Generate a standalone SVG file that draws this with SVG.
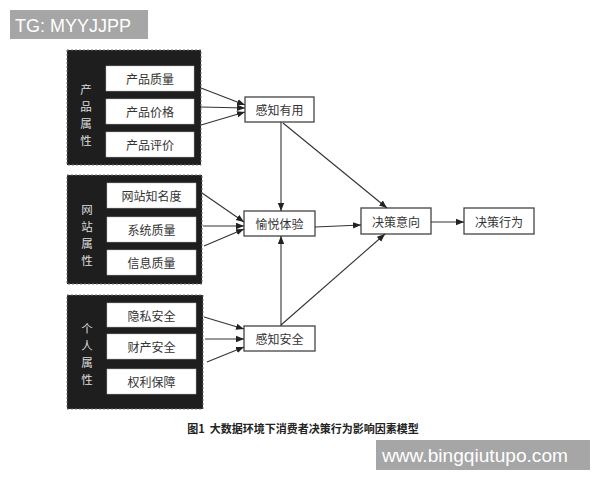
<svg xmlns="http://www.w3.org/2000/svg" width="600" height="480" viewBox="0 0 600 480">
<defs>
<marker id="ah" viewBox="0 0 10 10" refX="10" refY="5" markerWidth="8" markerHeight="8" markerUnits="userSpaceOnUse" orient="auto">
<path d="M0,1 L10,5 L0,9 Z" fill="#222"/>
</marker>
</defs>
<style>
.grp{fill:#1e1e1e;stroke:#777;stroke-width:1;stroke-dasharray:2,2}
.wb{fill:#fff;stroke:#bbb;stroke-width:0.5}
.nd{fill:#fff;stroke:#444;stroke-width:1.3}
.t{font-family:"Noto Sans CJK SC","Noto Sans",sans-serif;font-size:12px;fill:#333;text-anchor:middle;dominant-baseline:central}
.gl{font-family:"Noto Sans CJK SC","Noto Sans",sans-serif;font-size:11.5px;fill:#ddd;text-anchor:middle;dominant-baseline:central}
.c line{stroke:#333;stroke-width:1.1;marker-end:url(#ah)}
</style>
<rect width="600" height="480" fill="#fff"/>
<g id="watermark-top">
<rect x="10" y="10" width="138" height="29" fill="#a6a6a6"/>
<text x="15" y="32" font-family="Liberation Sans,Arial,sans-serif" font-size="18" fill="#fff">TG: MYYJJPP</text>
</g>
<g id="group-product">
<rect class="grp" x="67" y="50" width="134" height="115"/>
<text class="gl" x="86" y="89">产</text>
<text class="gl" x="86" y="106">品</text>
<text class="gl" x="86" y="123">属</text>
<text class="gl" x="86" y="140">性</text>
<g id="n-quality"><rect class="wb" x="106" y="66" width="88" height="25"/><text class="t" x="150" y="78.5">产品质量</text></g>
<g id="n-price"><rect class="wb" x="106" y="99" width="88" height="25"/><text class="t" x="150" y="111.5">产品价格</text></g>
<g id="n-review"><rect class="wb" x="106" y="132" width="88" height="25"/><text class="t" x="150" y="144.5">产品评价</text></g>
</g>
<g id="group-website">
<rect class="grp" x="67" y="175" width="135" height="109"/>
<text class="gl" x="87" y="209">网</text>
<text class="gl" x="87" y="226">站</text>
<text class="gl" x="87" y="243">属</text>
<text class="gl" x="87" y="260">性</text>
<g id="n-fame"><rect class="wb" x="107" y="183" width="89" height="25"/><text class="t" x="151.5" y="195.5">网站知名度</text></g>
<g id="n-system"><rect class="wb" x="107" y="217" width="89" height="25"/><text class="t" x="151.5" y="229.5">系统质量</text></g>
<g id="n-info"><rect class="wb" x="107" y="250" width="89" height="25"/><text class="t" x="151.5" y="262.5">信息质量</text></g>
</g>
<g id="group-personal">
<rect class="grp" x="67" y="295" width="136" height="114"/>
<text class="gl" x="87" y="328">个</text>
<text class="gl" x="87" y="345">人</text>
<text class="gl" x="87" y="362">属</text>
<text class="gl" x="87" y="379">性</text>
<g id="n-privacy"><rect class="wb" x="107" y="303" width="89" height="24"/><text class="t" x="151.5" y="315">隐私安全</text></g>
<g id="n-property"><rect class="wb" x="107" y="334" width="89" height="25"/><text class="t" x="151.5" y="346.5">财产安全</text></g>
<g id="n-rights"><rect class="wb" x="107" y="369" width="89" height="25"/><text class="t" x="151.5" y="381.5">权利保障</text></g>
</g>
<g id="n-useful"><rect class="nd" x="245" y="97" width="69" height="25"/><text class="t" x="279.5" y="109.5">感知有用</text></g>
<g id="n-pleasure"><rect class="nd" x="244" y="211" width="71" height="25"/><text class="t" x="279.5" y="223.5">愉悦体验</text></g>
<g id="n-safety"><rect class="nd" x="244" y="326" width="71" height="25"/><text class="t" x="279.5" y="338.5">感知安全</text></g>
<g id="n-intent"><rect class="nd" x="361" y="208" width="70" height="26"/><text class="t" x="396" y="221">决策意向</text></g>
<g id="n-behavior"><rect class="nd" x="464" y="208" width="70" height="26"/><text class="t" x="499" y="221">决策行为</text></g>
<g id="connectors" class="c">
<line x1="201" y1="88" x2="245" y2="105"/>
<line x1="201" y1="107" x2="245" y2="108"/>
<line x1="201" y1="125" x2="245" y2="112"/>
<line x1="202" y1="193" x2="244" y2="222"/>
<line x1="203" y1="226" x2="244" y2="226"/>
<line x1="204" y1="246" x2="244" y2="229"/>
<line x1="204" y1="317" x2="244" y2="329"/>
<line x1="205" y1="339" x2="244" y2="339"/>
<line x1="207" y1="362" x2="244" y2="347"/>
<line x1="281" y1="122" x2="281" y2="211"/>
<line x1="281" y1="326" x2="281" y2="236"/>
<line x1="283" y1="123" x2="387" y2="208"/>
<line x1="281" y1="325" x2="385" y2="234"/>
<line x1="315" y1="227" x2="361" y2="225"/>
<line x1="431" y1="222" x2="464" y2="222"/>
</g>
<text x="303" y="428" font-family="Noto Sans CJK SC,sans-serif" font-size="11" font-weight="bold" fill="#222" text-anchor="middle" dominant-baseline="central" xml:space="preserve">图1  大数据环境下消费者决策行为影响因素模型</text>
<g id="watermark-bottom">
<rect x="376" y="440" width="214" height="30" fill="#a6a6a6"/>
<text x="382" y="462" font-family="Liberation Sans,Arial,sans-serif" font-size="19" fill="#fff" textLength="186" lengthAdjust="spacingAndGlyphs">www.bingqiutupo.com</text>
</g>
</svg>
